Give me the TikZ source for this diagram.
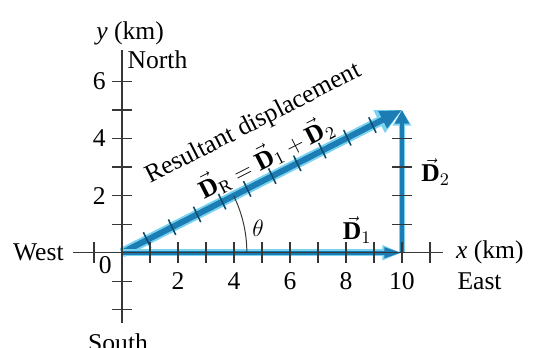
\documentclass[tikz,border=0pt]{standalone}
\usepackage{fontspec}
\setmainfont{Liberation Serif}
\usetikzlibrary{arrows.meta}
\definecolor{vecblue}{RGB}{28,125,180}
\definecolor{vecglow}{RGB}{120,210,240}
\definecolor{axisgray}{RGB}{55,55,55}
\tikzset{
   lbl/.style={font=\fontsize{13}{15}\selectfont, inner sep=1pt},
   axisline/.style={draw=axisgray, line width=0.6pt},
   tickmark/.style={draw=axisgray, line width=0.6pt},
}
\begin{document}
\begin{tikzpicture}[x=0.5cm, y=0.51cm]
   \useasboundingbox (-4.357,-3.32) rectangle (14.68,8.85);
   % end points of the vectors
   \coordinate (O) at (0,0);
   \coordinate (A) at (10,0);
   \coordinate (B) at (10,5);
   \coordinate (xl) at (-1.75,0);
   \coordinate (xr) at (11.45,0);
   \coordinate (yb) at (0,-2.45);
   \coordinate (yt) at (0,7.1);

   % vectors (light edge under a darker core)
   \draw[vecglow, line width=5pt, -{Triangle[length=13pt,width=12pt]}] (O) -- (B);
   \draw[vecblue, line width=3pt, -{Triangle[length=11pt,width=9pt]}] (O) -- (B);
   \draw[vecglow, line width=3.5pt, -{Triangle[length=10pt,width=7pt]}] (O) -- (A);
   \draw[vecblue, line width=2pt, -{Triangle[length=9pt,width=5pt]}] (O) -- (A);
   \draw[vecglow, line width=3.5pt, -{Triangle[length=8pt,width=9pt]}] (A) -- (B);
   \draw[vecblue, line width=2pt, -{Triangle[length=7pt,width=7pt]}] (A) -- (B);

   % axes
   \draw[axisline] (xl) -- (xr);
   \draw[axisline] (yb) -- (yt);
   \foreach \i in {-1,1,2,...,11} {
      \draw[tickmark] (\i,-0.36) -- (\i,0.36);
   }
   \foreach \j in {-2,-1,1,2,...,6} {
      \draw[tickmark] (-0.36,\j) -- (0.36,\j);
   }
   \foreach \j in {1,2,3,4} {
      \draw[tickmark] (9.64,\j) -- (10.36,\j);
   }
   % unit marks along the resultant
   \foreach \k in {1,...,10} {
      \pgfmathsetmacro{\px}{10*\k/11.1803}
      \pgfmathsetmacro{\py}{5*\k/11.1803}
      \draw[draw=vecblue!60!black, line width=0.8pt] (\px-0.13,\py+0.27) -- (\px+0.13,\py-0.27);
   }

   % tick labels
   \foreach \i in {2,4,...,10} {
      \node[lbl] (xt\i) at (\i,-1.0) {\i};
   }
   \foreach \j in {2,4,6} {
      \node[lbl, anchor=east] (yt\j) at (-0.5,\j) {\j};
   }
   \node[lbl] (zero) at (-0.6,-0.45) {0};

   % axis labels
   \node[lbl] (ylab) at (0.29,7.69) {\textit{y} (km)};
   \node[lbl, anchor=west] (north) at (0.12,6.75) {North};
   \node[lbl, anchor=east] (west) at (-2.0,0) {West};
   \node[lbl, anchor=west] (xlab) at (11.85,0) {\textit{x} (km)};
   \node[lbl, anchor=west] (east) at (11.9,-1.0) {East};
   \node[lbl] (south) at (-0.14,-3.15) {South};

   % angle
   \draw[axisgray, line width=0.5pt] (4.46,0) arc[start angle=0, end angle=26.57, radius=4.46];
   \node[lbl] (theta) at (4.86,0.87) {$\theta$};

   % vector labels
   \node[lbl] (d1) at (8.4,0.8) {$\vec{\textbf{D}}_1$};
   \node[lbl] (d2) at (11.2,2.83) {$\vec{\textbf{D}}_2$};
   \node[lbl, rotate=27] (res) at (4.7,4.5) {Resultant displacement};
   \node[lbl, rotate=27] (dr) at (5.14,3.35)
      {$\vec{\textbf{D}}_{\mathrm{R}} = \vec{\textbf{D}}_1 + \vec{\textbf{D}}_2$};
\end{tikzpicture}
\end{document}
